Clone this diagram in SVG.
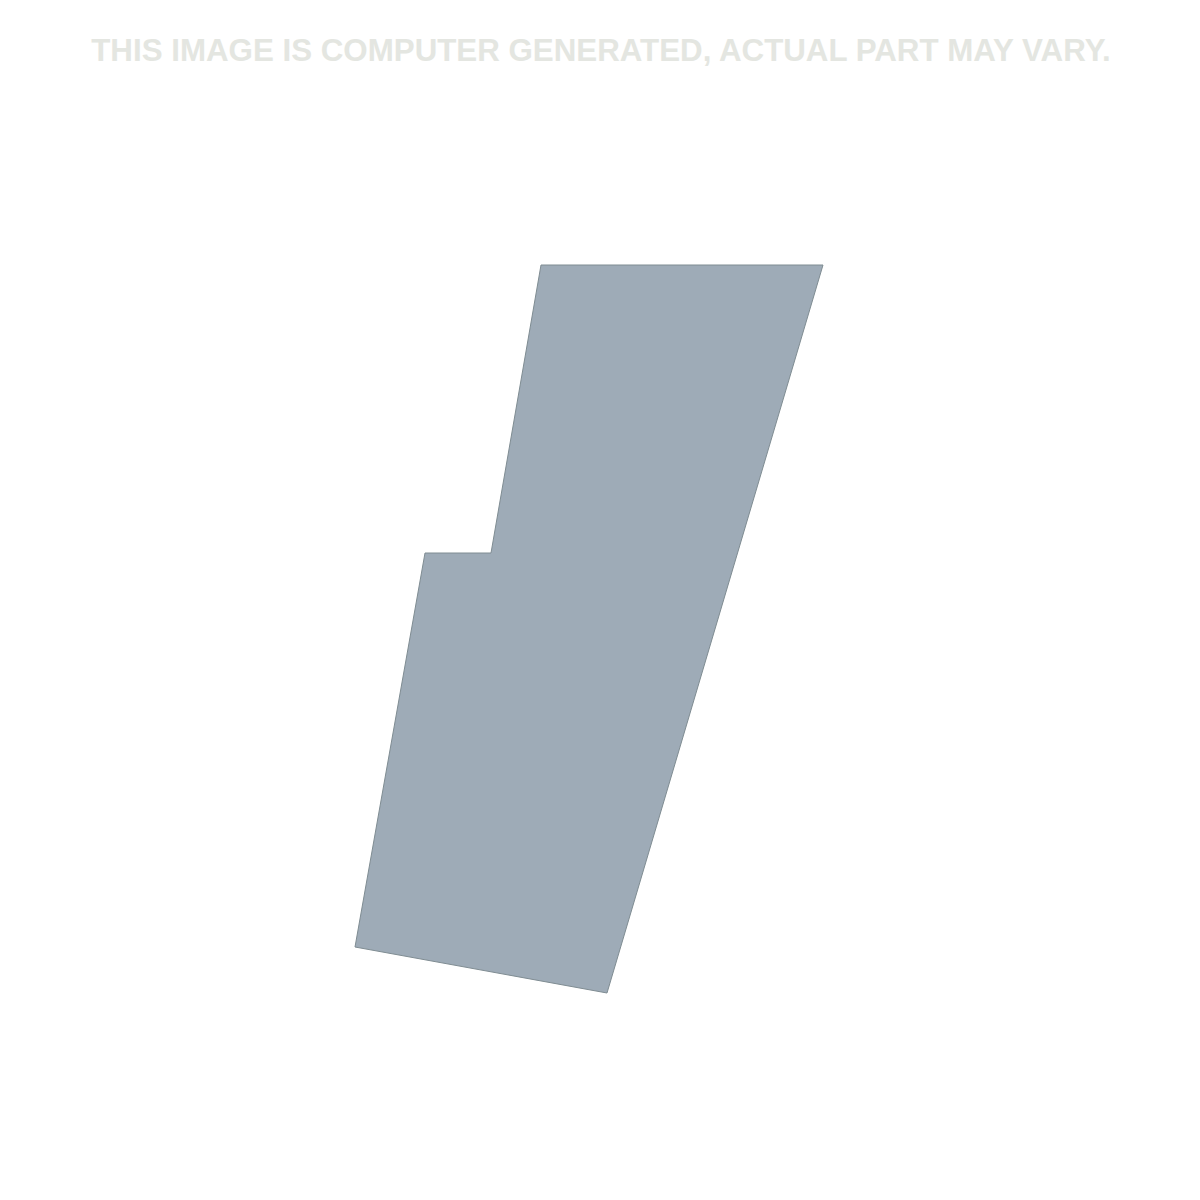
<svg xmlns="http://www.w3.org/2000/svg" width="1200" height="1200" viewBox="0 0 1200 1200">
<style>
.note{font-family:"Liberation Sans",Arial,sans-serif;font-weight:bold;font-size:31.3px;fill:#e4e6e1}
.part{fill:#9eabb7;stroke:#7f8c92;stroke-width:1}
</style>
<rect width="1200" height="1200" fill="#ffffff"/>
<text class="note" x="601" y="61" text-anchor="middle">THIS IMAGE IS COMPUTER GENERATED, ACTUAL PART MAY VARY.</text>
<g id="part">
<polygon class="part" points="541,265 823,265 607,993 355,947 425,553 491,553"/>
</g>
</svg>
